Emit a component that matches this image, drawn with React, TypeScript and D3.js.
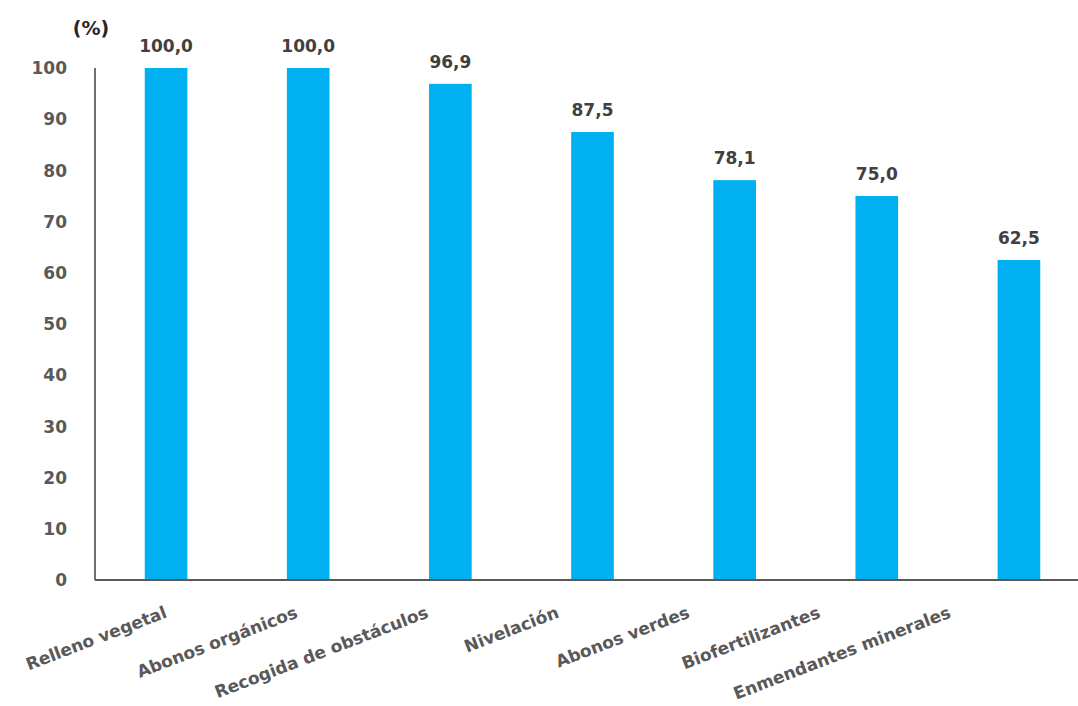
import React from "react";
import * as d3 from "d3";

const categories = [
  "Relleno vegetal",
  "Abonos orgánicos",
  "Recogida de obstáculos",
  "Nivelación",
  "Abonos verdes",
  "Biofertilizantes",
  "Enmendantes minerales",
];
const values = [100.0, 100.0, 96.9, 87.5, 78.1, 75.0, 62.5];
const yTicks = [0, 10, 20, 30, 40, 50, 60, 70, 80, 90, 100];
const yLabel = "(%)";

const W = 1078;
const H = 706;
const left = 95;
const right = 1090;
const top = 68;
const bottom = 580;

const FONT = "'DejaVu Sans', Verdana, sans-serif";

export default function App() {
  const x = d3.scaleBand<string>().domain(categories).range([left, right]).paddingInner(0.7).paddingOuter(0.35);
  const y = d3.scaleLinear().domain([0, 100]).range([bottom, top]);
  const labelX = d3.scalePoint<string>().domain(categories).range([168, 952]);
  const fmt = (v: number) => v.toFixed(1).replace(".", ",");

  return (
    <svg width={W} height={H} style={{ position: "absolute", left: 0, top: 0, background: "#fff" }}>
      <rect x={0} y={0} width={W} height={H} fill="#fff" />
      {categories.map((c, i) => (
        <rect key={c} x={x(c)!} y={y(values[i])} width={x.bandwidth()} height={y(0) - y(values[i])} fill="#00B0F0" />
      ))}
      {categories.map((c, i) => (
        <text
          key={"v" + c}
          x={x(c)! + x.bandwidth() / 2}
          y={y(values[i]) - 16}
          textAnchor="middle"
          fontFamily={FONT}
          fontWeight="bold"
          fontSize={17}
          fill="#404040"
        >
          {fmt(values[i])}
        </text>
      ))}
      <line x1={left} x2={left} y1={top} y2={bottom} stroke="#404040" strokeWidth={1.5} />
      <line x1={left} x2={W} y1={bottom} y2={bottom} stroke="#595959" strokeWidth={2} />
      {yTicks.map((t) => (
        <text
          key={"t" + t}
          x={67}
          y={y(t)}
          dy="0.36em"
          textAnchor="end"
          fontFamily={FONT}
          fontWeight="bold"
          fontSize={17}
          fill="#595959"
        >
          {t}
        </text>
      ))}
      <text x={91} y={35} textAnchor="middle" fontFamily={FONT} fontWeight="bold" fontSize={19} fill="#262626">
        {yLabel}
      </text>
      {categories.map((c) => (
        <text
          key={"c" + c}
          transform={`translate(${labelX(c)},${617}) rotate(-21)`}
          textAnchor="end"
          fontFamily={FONT}
          fontWeight="bold"
          fontSize={17}
          fill="#595959"
        >
          {c}
        </text>
      ))}
    </svg>
  );
}
